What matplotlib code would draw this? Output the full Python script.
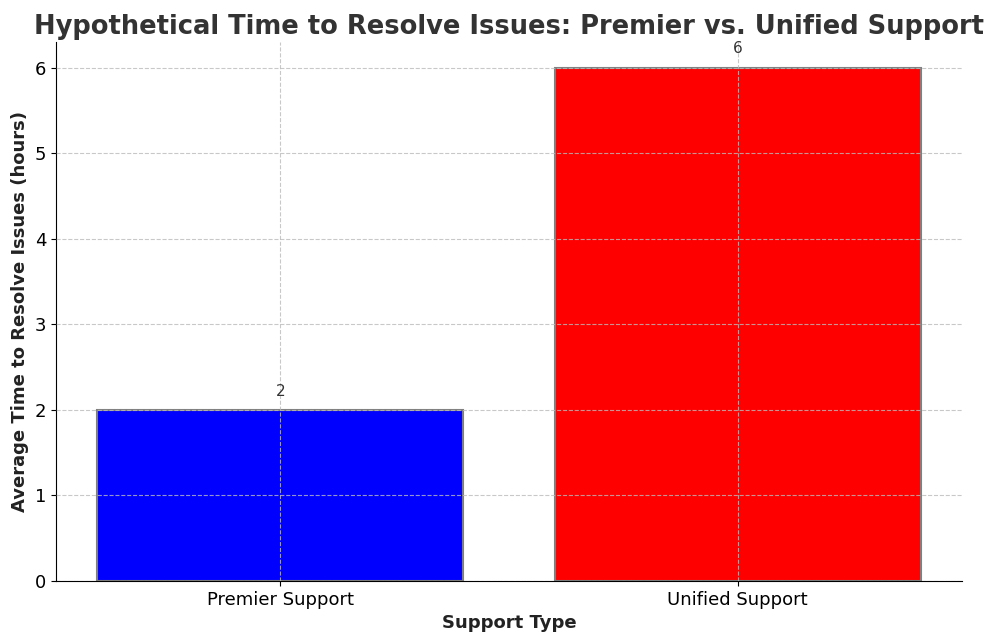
import matplotlib
matplotlib.use("Agg")
import matplotlib.pyplot as plt

support_types = ["Premier Support", "Unified Support"]
avg_hours = [2, 6]
bar_colors = ["blue", "red"]

fig, ax = plt.subplots(figsize=(10, 6.44), dpi=100)
bars = ax.bar(support_types, avg_hours, color=bar_colors, edgecolor="grey", linewidth=1.5)
for b, v in zip(bars, avg_hours):
    ax.annotate(str(v), (b.get_x() + b.get_width() / 2, v), xytext=(0, 8),
                textcoords="offset points", ha="center", va="bottom", fontsize=11, color="#333333")

ax.set_title("Hypothetical Time to Resolve Issues: Premier vs. Unified Support",
             fontsize=18.5, fontweight="bold", color="#333333")
ax.set_xlabel("Support Type", fontsize=13, fontweight="bold", color="#222222")
ax.set_ylabel("Average Time to Resolve Issues (hours)", fontsize=13, fontweight="bold", color="#222222")
ax.tick_params(labelsize=13)
ax.set_ylim(0, 6.3)
ax.grid(True, linestyle="--", color="#bbbbbb", alpha=0.8)
ax.set_axisbelow(False)
for s in ["top", "right"]:
    ax.spines[s].set_visible(False)
plt.subplots_adjust(left=0.056, right=0.962, top=0.935, bottom=0.098)
plt.savefig("out.png")
